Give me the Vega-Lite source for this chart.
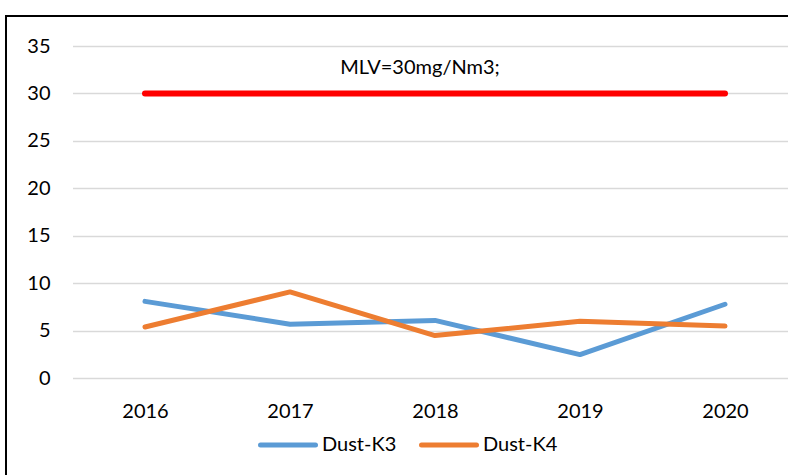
{
  "$schema": "https://vega.github.io/schema/vega-lite/v6.json",
  "width": 800,
  "height": 470,
  "autosize": {"type": "none"},
  "padding": {"left": 6, "top": 16, "right": 0, "bottom": 0},
  "background": "white",
  "config": {
    "view": {"stroke": "black", "strokeWidth": 2},
    "font": "Lato",
    "text": {"font": "Lato"}
  },
  "layer": [
    {
      "data": {"values": [{}]},
      "mark": {"type": "rule", "color": "#FF0000", "strokeWidth": 6, "strokeCap": "round"},
      "encoding": {
        "x": {"datum": 2016, "type": "ordinal", "scale": {"type": "point", "padding": 0.5, "range": [66.5, 791.5]},
          "axis": {"title": null, "ticks": false, "domain": false, "grid": false, "labelFontSize": 20, "labelColor": "black", "labelPadding": 0, "offset": -85, "labelAngle": 0}},
        "x2": {"datum": 2020},
        "y": {"datum": 30, "type": "quantitative"}
      }
    },
    {
      "data": {
        "values": [
          {"year": 2016, "series": "Dust-K3", "value": 8.1},
          {"year": 2017, "series": "Dust-K3", "value": 5.7},
          {"year": 2018, "series": "Dust-K3", "value": 6.1},
          {"year": 2019, "series": "Dust-K3", "value": 2.5},
          {"year": 2020, "series": "Dust-K3", "value": 7.8},
          {"year": 2016, "series": "Dust-K4", "value": 5.4},
          {"year": 2017, "series": "Dust-K4", "value": 9.1},
          {"year": 2018, "series": "Dust-K4", "value": 4.5},
          {"year": 2019, "series": "Dust-K4", "value": 6.0},
          {"year": 2020, "series": "Dust-K4", "value": 5.5}
        ]
      },
      "mark": {"type": "line", "strokeWidth": 5, "strokeCap": "round", "strokeJoin": "round"},
      "encoding": {
        "x": {"field": "year", "type": "ordinal"},
        "y": {"field": "value", "type": "quantitative",
          "scale": {"domain": [0, 35], "range": [362.3, 30], "nice": false, "zero": false},
          "axis": {"title": null, "values": [0, 5, 10, 15, 20, 25, 30, 35], "ticks": false, "domain": false, "grid": true, "gridColor": "#D9D9D9", "gridWidth": 1.5, "labelFontSize": 20, "labelColor": "black", "labelPadding": 0, "offset": -44}},
        "color": {"field": "series", "type": "nominal",
          "scale": {"domain": ["Dust-K3", "Dust-K4"], "range": ["#5B9BD5", "#ED7D31"]},
          "legend": {"orient": "none", "legendX": 252, "legendY": 399, "direction": "horizontal", "title": null,
            "symbolType": "stroke", "symbolSize": 3025, "symbolStrokeWidth": 5, "labelFontSize": 20, "labelColor": "black",
            "labelOffset": 4, "columnPadding": 14,
            "encode": {"symbols": {"update": {"strokeCap": {"value": "round"}}}}}}
      }
    },
    {
      "data": {"values": [{}]},
      "mark": {"type": "text", "text": "MLV=30mg/Nm3;", "font": "Lato", "fontSize": 20, "dx": -15, "baseline": "alphabetic", "fill": "black"},
      "encoding": {
        "x": {"datum": 2018, "type": "ordinal"},
        "y": {"datum": 32, "type": "quantitative"}
      }
    }
  ]
}
